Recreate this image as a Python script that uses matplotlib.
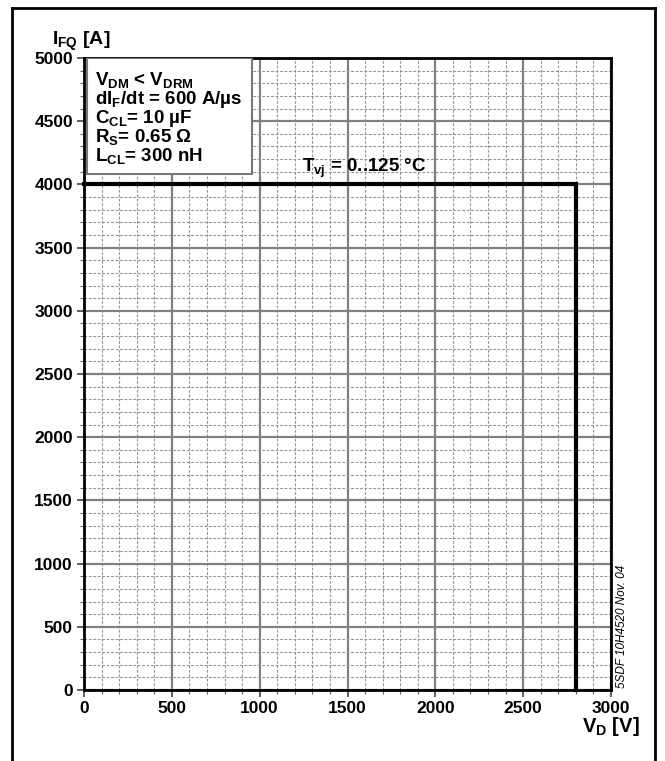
import matplotlib
matplotlib.use("Agg")
import matplotlib.pyplot as plt
from matplotlib.patches import Rectangle
from matplotlib.lines import Line2D
from matplotlib.ticker import MultipleLocator

plt.rcParams['font.family'] = ['Liberation Sans', 'DejaVu Sans']
plt.rcParams['font.weight'] = 'bold'
plt.rcParams['mathtext.fontset'] = 'custom'
plt.rcParams['mathtext.rm'] = 'Liberation Sans:bold'
plt.rcParams['mathtext.it'] = 'Liberation Sans:bold'
plt.rcParams['mathtext.bf'] = 'Liberation Sans:bold'
plt.rcParams['mathtext.default'] = 'rm'

# Data: SOA boundary (V_D in V, I_FQ in A)
vd = [0, 2800, 2800]
ifq = [4000, 4000, 0]
x_ticks = [0, 500, 1000, 1500, 2000, 2500, 3000]
y_ticks = [0, 500, 1000, 1500, 2000, 2500, 3000, 3500, 4000, 4500, 5000]
box_lines = [r'V$_{DM}$ < V$_{DRM}$',
             r'dI$_{F}$/dt = 600 A/µs',
             r'C$_{CL}$= 10 µF',
             r'R$_{S}$= 0.65 Ω',
             r'L$_{CL}$= 300 nH']
curve_label = r'T$_{vj}$ = 0..125 °C'

W, H = 665, 761
fig = plt.figure(figsize=(W / 100, H / 100), dpi=100)
fig.patch.set_facecolor('white')

x0, x1, ytop, ybot = 84, 611, 58, 690
ax = fig.add_axes([x0 / W, 1 - ybot / H, (x1 - x0) / W, (ybot - ytop) / H])
ax.set_xlim(0, 3000)
ax.set_ylim(0, 5000)
ax.set_xticks(x_ticks)
ax.set_yticks(y_ticks)
ax.xaxis.set_minor_locator(MultipleLocator(100))
ax.yaxis.set_minor_locator(MultipleLocator(100))
ax.grid(which='major', color='#808080', linewidth=1.6, linestyle='-')
ax.grid(which='minor', color='#949494', linewidth=0.8, linestyle=(0, (2.5, 1.5)))
ax.set_axisbelow(True)
for s in ax.spines.values():
    s.set_linewidth(2.0)
    s.set_color('black')
ax.tick_params(which='major', direction='out', length=5, width=1.2, labelsize=12.5,
               pad=3, color='#444444')
ax.tick_params(which='minor', direction='out', length=3, width=0.8, color='#666666')
for lab in ax.get_xticklabels() + ax.get_yticklabels():
    lab.set_fontweight('bold')

ax.plot(vd, ifq, color='black', linewidth=3.0, solid_joinstyle='miter', zorder=5,
        clip_on=False)

# parameter box
bx0 = (87 - x0) / (x1 - x0)
bx1 = (252 - x0) / (x1 - x0)
by1 = (ybot - 58) / (ybot - ytop)
by0 = (ybot - 174) / (ybot - ytop)
ax.add_patch(Rectangle((bx0, by0), bx1 - bx0, by1 - by0, transform=ax.transAxes,
                       facecolor='white', edgecolor='#777777', linewidth=1.5, zorder=6))
baselines = [85, 104, 123, 142, 161]
for txt, yb in zip(box_lines, baselines):
    fig.text(95 / W, 1 - yb / H, txt, fontsize=13.5, fontweight='bold',
             ha='left', va='baseline', zorder=7)

fig.text(302 / W, 1 - 172 / H, curve_label, fontsize=13.5, fontweight='bold',
         ha='left', va='baseline')

fig.text(52 / W, 1 - 45 / H, r'I$_{FQ}$ [A]', fontsize=14, fontweight='bold',
         ha='left', va='baseline')
fig.text(582 / W, 1 - 732 / H, r'V$_{D}$ [V]', fontsize=14.5, fontweight='bold',
         ha='left', va='baseline')

fig.text(622 / W, 1 - 626 / H, '5SDF 10H4520 Nov. 04', fontsize=8.5,
         fontweight='normal', style='italic', rotation=90,
         ha='center', va='center')

# outer frame
fl, fr, ft = 11.5 / W, 654.5 / W, 1 - 7.5 / H
for xs, ys in [([fl, fl], [0, ft]), ([fl, fr], [ft, ft]), ([fr, fr], [ft, 0])]:
    fig.add_artist(Line2D(xs, ys, color='black', linewidth=2.0,
                          transform=fig.transFigure))

fig.savefig('out.png', dpi=100)
